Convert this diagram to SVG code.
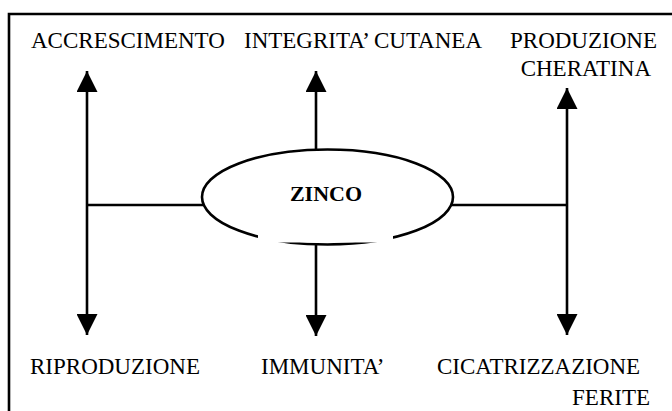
<svg xmlns="http://www.w3.org/2000/svg" width="672" height="411" viewBox="0 0 672 411">
<style>
.t{font-family:"Liberation Serif","Times New Roman",serif;font-size:23px;fill:#000}
.b{font-weight:bold;font-size:22px}
.e{text-anchor:end}
.ln{stroke:#000;stroke-width:2.6;fill:none}
</style>
<defs>
<marker id="ah" viewBox="0 0 21 21" refX="21" refY="10.5" markerWidth="21" markerHeight="21" markerUnits="userSpaceOnUse" orient="auto">
<path d="M0,0 L21,10.5 L0,21 Z" fill="#000"/>
</marker>
</defs>
<rect width="672" height="411" fill="#fff"/>
<g id="frame">
<path class="ln" d="M9,420 L9,14 L680,14" stroke-width="2"/>
</g>
<g id="connectors">
<line class="ln" x1="87" y1="205" x2="87" y2="71" marker-end="url(#ah)"/>
<line class="ln" x1="87" y1="205" x2="87" y2="335" marker-end="url(#ah)"/>
<line class="ln" x1="87" y1="205" x2="203" y2="205"/>
<line class="ln" x1="316" y1="149" x2="316" y2="71" marker-end="url(#ah)"/>
<line class="ln" x1="316" y1="243" x2="316" y2="336" marker-end="url(#ah)"/>
<line class="ln" x1="567" y1="205" x2="567" y2="88" marker-end="url(#ah)"/>
<line class="ln" x1="567" y1="205" x2="567" y2="335" marker-end="url(#ah)"/>
<line class="ln" x1="452" y1="205" x2="567" y2="205"/>
</g>
<g id="zinco">
<ellipse class="ln" cx="327.5" cy="197" rx="125.5" ry="47.5"/>
<rect x="258" y="226" width="135" height="16.5" fill="#fff"/>
<text class="t b" x="326" y="201" text-anchor="middle">ZINCO</text>
</g>
<g id="accrescimento"><text class="t" x="31" y="48">ACCRESCIMENTO</text></g>
<g id="integrita"><text class="t" x="244" y="48">INTEGRITA’ CUTANEA</text></g>
<g id="produzione"><text class="t" x="510" y="48">PRODUZIONE</text><text class="t e" x="651" y="76">CHERATINA</text></g>
<g id="riproduzione"><text class="t" x="30" y="374">RIPRODUZIONE</text></g>
<g id="immunita"><text class="t" x="261" y="374">IMMUNITA’</text></g>
<g id="cicatrizzazione"><text class="t" x="437" y="374">CICATRIZZAZIONE</text><text class="t e" x="650" y="405">FERITE</text></g>
</svg>
